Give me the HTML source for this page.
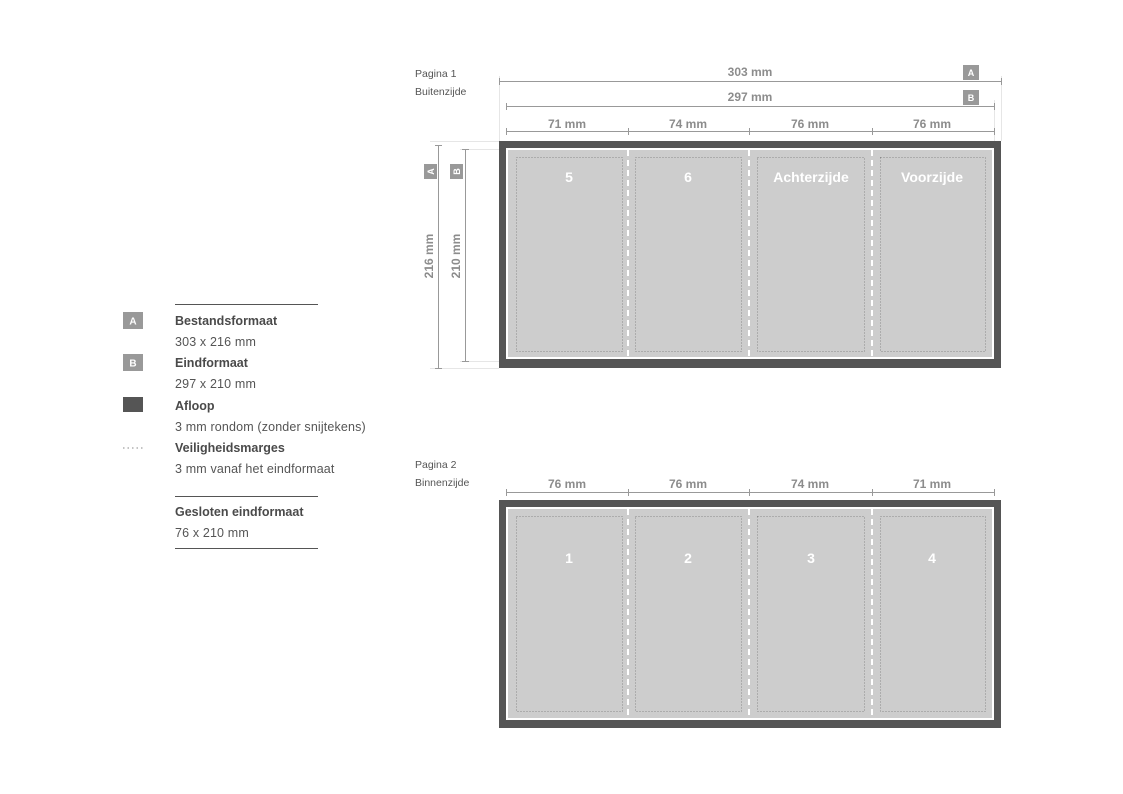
<!DOCTYPE html>
<html><head><meta charset="utf-8"><style>
html,body{margin:0;padding:0;background:#fff;width:1123px;height:794px;overflow:hidden}
svg{display:block}
text{font-family:"Liberation Sans",Arial,sans-serif}
.d{font-size:12px;font-weight:bold;fill:#8c8c8c}
.s{font-size:10.5px;fill:#555}
.lg{font-size:12.5px;fill:#555;letter-spacing:0.15px}
.lb{font-size:12.5px;fill:#4a4a4a;font-weight:bold}
.p{font-size:14px;font-weight:bold;fill:#fff}
</style></head><body>
<svg width="1123" height="794" viewBox="0 0 1123 794" xmlns="http://www.w3.org/2000/svg">
<g>
<line x1="175" y1="304.5" x2="318" y2="304.5" stroke="#555" stroke-width="1"/>
<rect x="123" y="312" width="20" height="17" fill="#999"/>
<text x="133" y="324.5" text-anchor="middle" font-size="10" font-weight="bold" fill="#fff">A</text>
<text class="lb" x="175" y="325">Bestandsformaat</text>
<text class="lg" x="175" y="346">303 x 216 mm</text>
<rect x="123" y="354" width="20" height="17" fill="#999"/>
<text x="133" y="366.5" text-anchor="middle" font-size="10" font-weight="bold" fill="#fff">B</text>
<text class="lb" x="175" y="367">Eindformaat</text>
<text class="lg" x="175" y="388">297 x 210 mm</text>
<rect x="123" y="397" width="20" height="15" fill="#555"/>
<text class="lb" x="175" y="410">Afloop</text>
<text class="lg" x="175" y="431">3 mm rondom (zonder snijtekens)</text>
<line x1="123" y1="448" x2="143" y2="448" stroke="#888" stroke-width="1" stroke-dasharray="1.5,3"/>
<text class="lb" x="175" y="452">Veiligheidsmarges</text>
<text class="lg" x="175" y="473">3 mm vanaf het eindformaat</text>
<line x1="175" y1="496.5" x2="318" y2="496.5" stroke="#555" stroke-width="1"/>
<text class="lb" x="175" y="516">Gesloten eindformaat</text>
<text class="lg" x="175" y="537">76 x 210 mm</text>
<line x1="175" y1="548.5" x2="318" y2="548.5" stroke="#555" stroke-width="1"/>
</g>

<text class="s" x="415" y="77">Pagina 1</text>
<text class="s" x="415" y="95">Buitenzijde</text>
<g stroke="#e6e6e6" stroke-width="1">
<line x1="499.5" y1="76" x2="499.5" y2="141"/>
<line x1="1001.5" y1="76" x2="1001.5" y2="141"/>
<line x1="430" y1="141.5" x2="499" y2="141.5"/>
<line x1="430" y1="368.5" x2="499" y2="368.5"/>
<line x1="460" y1="149.5" x2="499" y2="149.5"/>
<line x1="460" y1="361.5" x2="499" y2="361.5"/>
<line x1="994.5" y1="100" x2="994.5" y2="141"/>
</g>
<g stroke="#999" stroke-width="1">
<line x1="499" y1="81.5" x2="1001" y2="81.5"/>
<line x1="499.5" y1="78" x2="499.5" y2="85"/><line x1="1001.5" y1="78" x2="1001.5" y2="85"/>
<line x1="506" y1="106.5" x2="994" y2="106.5"/>
<line x1="506.5" y1="103" x2="506.5" y2="110"/><line x1="994.5" y1="103" x2="994.5" y2="110"/>
<line x1="506" y1="131.5" x2="994" y2="131.5"/>
<line x1="506.5" y1="128" x2="506.5" y2="135"/><line x1="628.5" y1="128" x2="628.5" y2="135"/><line x1="749.5" y1="128" x2="749.5" y2="135"/><line x1="872.5" y1="128" x2="872.5" y2="135"/><line x1="994.5" y1="128" x2="994.5" y2="135"/>
<line x1="438.5" y1="145" x2="438.5" y2="368"/>
<line x1="435" y1="145.5" x2="442" y2="145.5"/><line x1="435" y1="368.5" x2="442" y2="368.5"/>
<line x1="465.5" y1="149" x2="465.5" y2="361"/>
<line x1="462" y1="149.5" x2="469" y2="149.5"/><line x1="462" y1="361.5" x2="469" y2="361.5"/>
</g>
<text class="d" x="750" y="76" text-anchor="middle">303 mm</text>
<text class="d" x="750" y="101" text-anchor="middle">297 mm</text>
<text class="d" x="567" y="128" text-anchor="middle">71 mm</text>
<text class="d" x="688" y="128" text-anchor="middle">74 mm</text>
<text class="d" x="810" y="128" text-anchor="middle">76 mm</text>
<text class="d" x="932" y="128" text-anchor="middle">76 mm</text>
<rect x="963" y="65" width="16" height="15" fill="#999"/><text x="971" y="76" text-anchor="middle" font-size="9" font-weight="bold" fill="#fff">A</text>
<rect x="963" y="90" width="16" height="15" fill="#999"/><text x="971" y="101" text-anchor="middle" font-size="9" font-weight="bold" fill="#fff">B</text>
<rect x="424" y="164" width="13" height="15" fill="#999"/><text transform="translate(434,171.5) rotate(-90)" text-anchor="middle" font-size="9" font-weight="bold" fill="#fff">A</text>
<rect x="450" y="164" width="13" height="15" fill="#999"/><text transform="translate(460,171.5) rotate(-90)" text-anchor="middle" font-size="9" font-weight="bold" fill="#fff">B</text>
<text class="d" transform="translate(433,256) rotate(-90)" text-anchor="middle">216 mm</text>
<text class="d" transform="translate(460,256) rotate(-90)" text-anchor="middle">210 mm</text>

<rect x="499" y="141" width="502" height="227" fill="#555"/>
<rect x="506" y="148" width="488" height="211" fill="#fff"/>
<rect x="508" y="150" width="484" height="207" fill="#cdcdcd"/>
<g stroke="#fff" stroke-width="2" stroke-dasharray="6,4">
<line x1="628" y1="150" x2="628" y2="357"/><line x1="749" y1="150" x2="749" y2="357"/><line x1="872" y1="150" x2="872" y2="357"/>
</g>
<g fill="none" stroke="#8a8a8a" stroke-width="1" stroke-dasharray="1,2">
<rect x="516.5" y="157.5" width="106" height="194"/>
<rect x="635.5" y="157.5" width="106" height="194"/>
<rect x="757.5" y="157.5" width="107" height="194"/>
<rect x="880.5" y="157.5" width="105" height="194"/>
</g>
<text class="p" x="569" y="182" text-anchor="middle">5</text>
<text class="p" x="688" y="182" text-anchor="middle">6</text>
<text class="p" x="811" y="182" text-anchor="middle">Achterzijde</text>
<text class="p" x="932" y="182" text-anchor="middle">Voorzijde</text>

<text class="s" x="415" y="468">Pagina 2</text>
<text class="s" x="415" y="486">Binnenzijde</text>
<g stroke="#999" stroke-width="1">
<line x1="506" y1="492.5" x2="994" y2="492.5"/>
<line x1="506.5" y1="489" x2="506.5" y2="496"/><line x1="628.5" y1="489" x2="628.5" y2="496"/><line x1="749.5" y1="489" x2="749.5" y2="496"/><line x1="872.5" y1="489" x2="872.5" y2="496"/><line x1="994.5" y1="489" x2="994.5" y2="496"/>
</g>
<text class="d" x="567" y="488" text-anchor="middle">76 mm</text>
<text class="d" x="688" y="488" text-anchor="middle">76 mm</text>
<text class="d" x="810" y="488" text-anchor="middle">74 mm</text>
<text class="d" x="932" y="488" text-anchor="middle">71 mm</text>
<rect x="499" y="500" width="502" height="228" fill="#555"/>
<rect x="506" y="507" width="488" height="213" fill="#fff"/>
<rect x="508" y="509" width="484" height="209" fill="#cdcdcd"/>
<g stroke="#fff" stroke-width="2" stroke-dasharray="6,4">
<line x1="628" y1="509" x2="628" y2="718"/><line x1="749" y1="509" x2="749" y2="718"/><line x1="872" y1="509" x2="872" y2="718"/>
</g>
<g fill="none" stroke="#8a8a8a" stroke-width="1" stroke-dasharray="1,2">
<rect x="516.5" y="516.5" width="106" height="195"/>
<rect x="635.5" y="516.5" width="106" height="195"/>
<rect x="757.5" y="516.5" width="107" height="195"/>
<rect x="880.5" y="516.5" width="105" height="195"/>
</g>
<text class="p" x="569" y="563" text-anchor="middle">1</text>
<text class="p" x="688" y="563" text-anchor="middle">2</text>
<text class="p" x="811" y="563" text-anchor="middle">3</text>
<text class="p" x="932" y="563" text-anchor="middle">4</text>
</svg>
</body></html>
